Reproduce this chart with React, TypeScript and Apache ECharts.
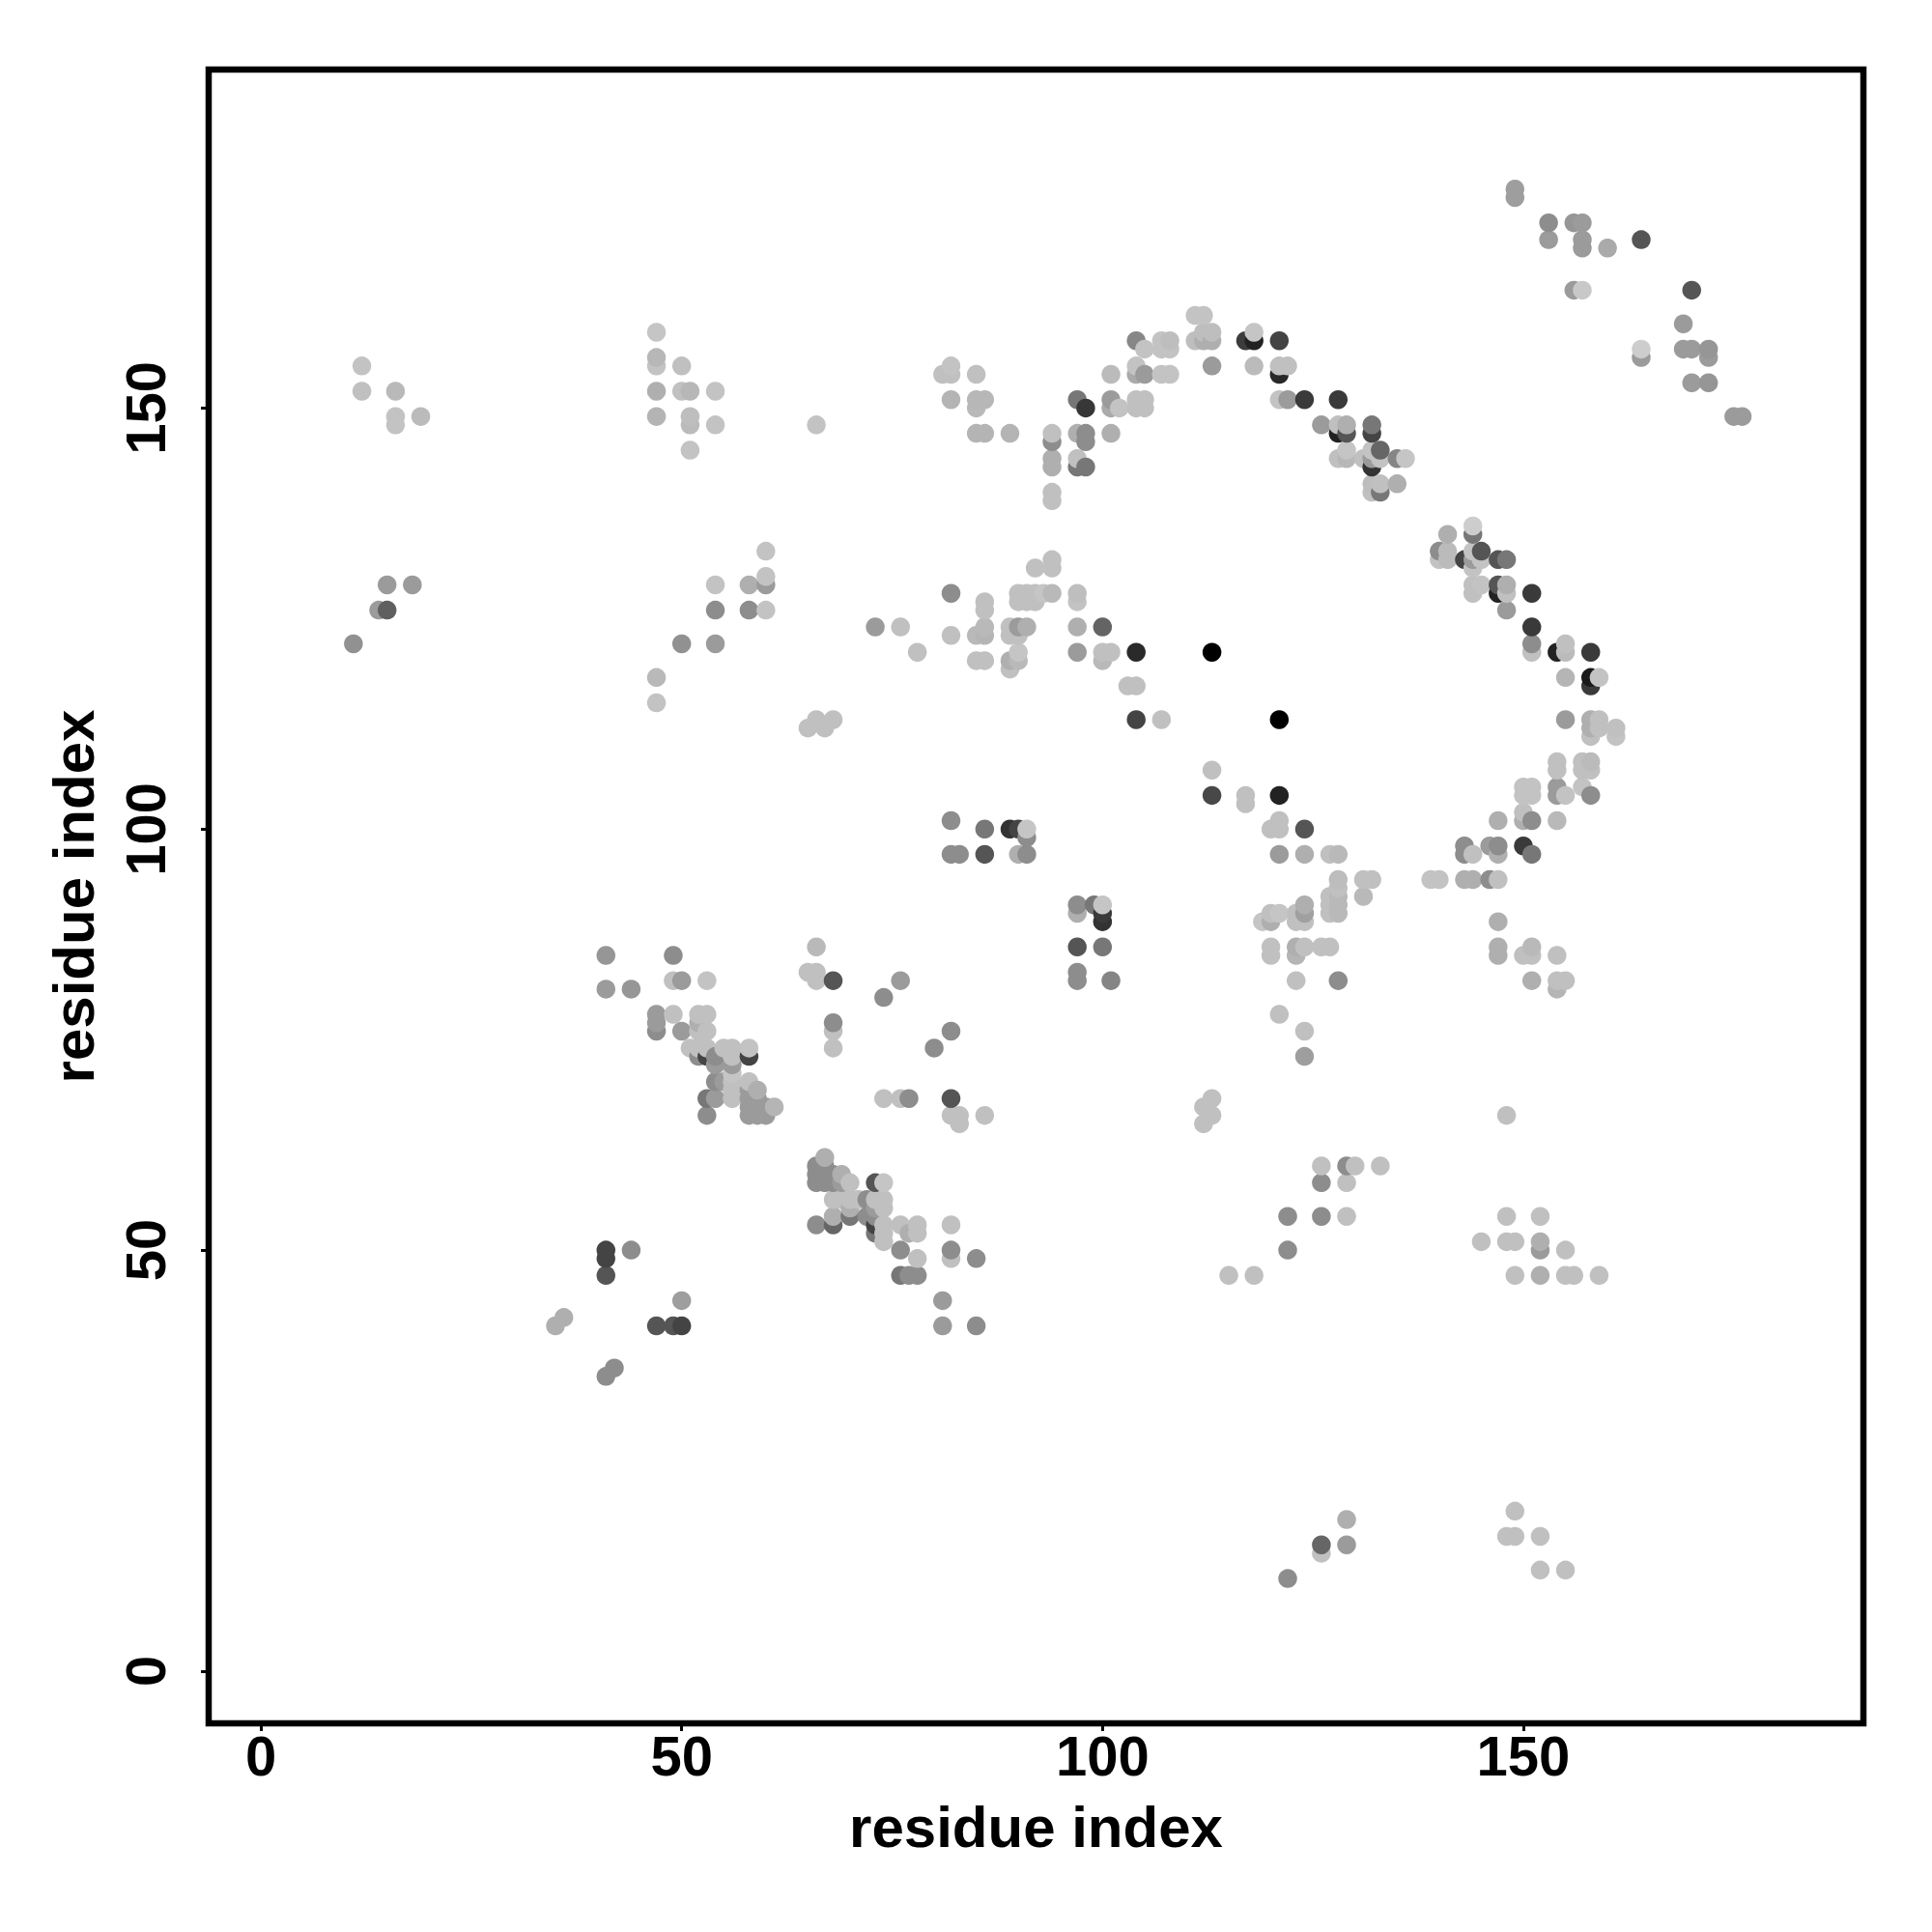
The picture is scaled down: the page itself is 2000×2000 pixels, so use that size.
import React, { useEffect, useRef } from "react";
import * as echarts from "echarts";

// each contact: [residue i, residue j, grey level]
const farLeft = [[12,155,190],[12,152,187],[16,152,180],[16,149,190],[16,148,190],[19,149,182],[15,129,150],[18,129,150],[14,126,150],[15,126,95],[11,122,140]];
const upperMid = [[47,159,192],[47,156,178],[47,155,190],[50,155,187],[47,152,170],[50,152,187],[51,152,178],[54,152,190],[47,149,175],[51,149,185],[51,148,182],[54,148,190],[51,145,190],[66,148,190],
  [60,133,190],[60,130,190],[60,129,150],[54,129,190],[58,129,170],[54,126,136],[58,126,136],[60,126,190],[50,122,140],[54,122,150],[47,118,180],[47,115,190]];
const topArc = [[111,161,190],[112,161,190],[104,158,130],[105,157,190],[107,158,190],[108,158,185],[107,157,190],[108,157,190],[111,158,185],[112,159,185],[113,159,185],[112,158,170],[113,158,170],[113,155,150],
  [117,158,60],[118,158,34],[118,159,192],[121,158,68],[118,155,182],[121,155,187],[122,155,187],[121,154,40],[121,151,190],[122,151,150],
  [81,154,187],[82,155,190],[82,154,187],[85,154,187],[82,151,175],[85,151,178],[86,151,178],[85,150,180],[85,147,175],[86,147,175],[89,147,175],
  [94,147,187],[94,146,136],[94,144,170],[94,143,170],[94,140,187],[94,139,187],[97,151,119],[98,150,55],[97,147,170],[98,147,136],[98,146,136],[97,144,187],[97,143,119],[98,143,119],
  [101,154,182],[101,151,150],[101,150,165],[102,150,190],[101,147,170],[104,155,190],[104,154,165],[105,154,150],[107,154,190],[108,154,190],[104,151,187],[105,151,187],[104,150,187],[105,150,187]];
const midBand = [[94,132,187],[94,131,187],[92,131,187],[82,128,136],[86,127,187],[86,126,187],[90,128,187],[91,128,187],[92,128,187],[93,128,192],[94,128,180],[90,127,187],[91,127,187],[92,127,187],[97,128,185],[97,127,190],
  [73,124,150],[76,124,187],[100,124,100],[97,124,170],[86,124,180],[85,123,180],[86,123,176],[82,123,187],[89,124,187],[90,124,150],[91,124,170],[89,123,187],[90,123,187],
  [78,121,187],[104,121,42],[113,121,0],[97,121,150],[100,121,187],[101,121,187],[100,120,180],[85,120,187],[86,120,187],[89,120,170],[90,121,192],[90,120,180],[89,119,187],
  [103,117,187],[104,117,187],[104,113,68],[107,113,187],[121,113,0],[113,107,187],[113,104,72],[68,113,187],[66,113,187],[65,112,187],[67,112,187]];
const topRight = [[149,176,153],[149,175,153],[153,172,136],[153,170,150],[156,172,145],[157,172,150],[157,170,150],[157,169,150],[160,169,165],[164,170,85],[156,164,150],[157,164,195],[170,164,85],[169,160,150],
  [164,157,200],[164,156,150],[169,157,150],[170,157,150],[172,157,145],[172,156,150],[170,153,150],[172,153,145],[175,149,150],[176,149,150]];
const upperRightArc = [[124,151,58],[128,151,58],[126,148,150],[128,148,187],[129,148,170],[128,147,34],[129,147,85],[132,148,119],[132,147,68],[133,145,102],[128,144,187],[129,145,192],[129,144,178],[131,144,187],[132,145,190],[132,144,150],[133,144,190],[132,143,51],[135,144,128],[136,144,192],
  [132,141,184],[133,141,187],[132,140,187],[133,140,119],[135,141,170]];
const rightArc = [[141,135,170],[144,136,200],[144,135,119],[140,133,136],[141,133,182],[140,132,190],[141,132,182],[143,132,68],[144,133,190],[145,133,85],[144,132,150],[145,132,190],[144,131,190],[147,132,85],[148,132,119],
  [144,129,187],[145,129,190],[144,128,187],[147,129,85],[147,128,34],[148,129,170],[148,128,187],[148,126,150],[151,128,58],[151,124,58],[151,122,136],[151,121,187],
  [154,121,34],[155,122,187],[155,121,182],[158,121,58],[155,118,176],[158,118,26],[159,118,190],[158,117,58],[155,113,150],[158,113,170],[159,113,187],[158,112,170],[159,112,187],[158,111,187],[161,112,187],[161,111,190],
  [154,108,187],[154,107,187],[157,108,187],[158,108,182],[157,107,187],[158,107,187],[157,105,190],[154,105,150],[154,104,150],[155,104,190],[158,104,136],[150,105,190],[151,105,190],[150,104,190],[151,104,190],
  [150,102,187],[150,101,170],[151,101,136],[147,101,170],[154,101,180],[150,98,58],[151,97,119],[143,98,136],[143,97,136],[144,97,187],[146,98,150],[147,98,136],[147,97,170],
  [139,94,190],[140,94,190],[143,94,170],[144,94,170],[146,94,136],[147,94,187]];
const centerRight = [[117,104,187],[117,103,187],[121,104,34],[121,101,187],[120,100,187],[121,100,187],[124,100,85],[121,97,150],[124,97,170],[127,97,187],[128,97,180],
  [128,94,184],[127,92,187],[128,93,187],[128,92,180],[127,91,187],[128,91,180],[127,90,187],[128,90,180],[131,94,187],[132,94,187],[131,92,180],
  [119,89,192],[120,90,187],[120,89,170],[121,90,192],[123,90,187],[123,89,187],[124,91,170],[124,90,155],[124,89,187],
  [120,86,187],[120,85,187],[123,86,170],[123,85,176],[124,86,187],[126,86,187],[127,86,187],[123,82,187],[128,82,136],[121,78,187],[124,76,187],[124,73,153],
  [113,68,187],[112,67,187],[113,66,187],[112,65,187]];
const centerLeft = [[82,101,136],[82,97,136],[83,97,136],[86,100,119],[86,97,85],[89,100,51],[90,100,68],[91,100,192],[91,99,136],[90,97,170],[91,97,136],
  [97,91,136],[97,90,170],[99,91,119],[100,91,192],[100,90,58],[100,89,51],[97,86,85],[100,86,119],[97,83,136],[97,82,136],[101,82,128]];
const lowerRight = [[147,89,170],[147,86,170],[147,85,170],[150,85,187],[151,86,180],[151,85,187],[154,85,187],[151,82,170],[154,82,187],[155,82,187],[154,81,176],[148,66,187],
  [126,60,187],[129,60,136],[130,60,187],[133,60,187],[126,58,136],[129,58,187],[122,54,136],[126,54,136],[129,54,187],[122,50,136],[115,47,187],[118,47,187],
  [145,51,187],[148,54,187],[148,51,187],[149,51,187],[152,54,187],[152,51,170],[152,50,150],[155,50,187],[149,47,187],[152,47,170],[155,47,187],[156,47,187],[159,47,187]];
const bottomRight = [[126,14,187],[126,15,102],[129,18,170],[129,15,150],[122,11,136],[149,19,187],[148,16,187],[149,16,187],[152,16,187],[152,12,187],[155,12,187]];
const lowerLeft = [[35,41,170],[36,42,170],[41,35,136],[42,36,136],[41,50,68],[41,49,68],[41,47,85],[44,50,136],[50,44,153],[47,41,85],[49,41,85],[50,41,68]];
const diagonalA = [[41,85,145],[49,85,136],[41,81,150],[44,81,145],[49,82,187],[50,82,150],[53,82,190],[47,78,150],[47,77,150],[47,76,136],[49,78,187],[50,76,150],
  [52,78,187],[53,78,187],[52,77,170],[53,76,187],[52,76,187],[51,74,187],[52,74,187],[53,74,187],[52,73,136],[53,73,68],[54,73,136],[54,72,150],
  [55,74,187],[56,74,187],[56,73,187],[56,72,150],[58,74,190],[58,73,68],[56,71,192],[56,70,187],[56,69,187],[56,68,187],[54,70,136],[55,70,150],[53,68,119],[54,68,150],[53,66,136],
  [58,70,187],[59,69,170],[58,69,150],[58,68,150],[58,67,150],[58,66,150],[59,68,150],[59,67,150],[59,66,150],[60,66,150],[61,67,176],[60,67,150]];
const diagonalB = [[66,86,180],[65,83,187],[66,83,187],[66,82,187],[68,82,85],[68,77,136],[68,76,187],[68,74,187],[74,80,136],[76,82,150],[74,68,187],[76,68,187],[77,68,136],[80,74,136],[82,76,136],[82,68,85],[82,66,187],[83,66,187],[83,65,187],[86,66,187],
  [67,61,170],[66,60,136],[66,59,136],[66,58,136],[67,60,136],[67,59,136],[67,58,136],[68,59,136],[68,58,136],[69,59,170],[70,58,187],[69,58,150],[73,58,85],[74,58,192],
  [68,56,187],[69,56,187],[70,56,187],[71,56,187],[70,55,170],[70,54,119],[68,54,170],[68,53,102],[66,53,136],[72,56,136],[73,56,187],[74,56,187],[73,55,150],[74,55,187],[72,54,136],[73,54,136],[74,53,187],[73,53,68],[73,52,119],[74,52,187],[74,51,187],
  [76,53,187],[76,50,136],[77,52,170],[78,53,187],[78,52,187],[78,49,187],[76,47,119],[77,47,136],[78,47,136],[82,53,187],[82,50,136],[82,49,187],[85,49,136],[81,44,150],[81,41,150],[85,41,136]];

const tickValues = [0, 50, 100, 150];

const contacts = [...farLeft, ...upperMid, ...topArc, ...midBand, ...topRight, ...upperRightArc, ...rightArc, ...centerRight, ...centerLeft, ...lowerRight, ...bottomRight, ...lowerLeft, ...diagonalA, ...diagonalB]
  .slice()
  .sort((a, b) => a[0] - b[0] || a[1] - b[1]);

const FONT = "Liberation Sans";

function axis(max: number, nameGap: number, rotate: number, labelMargin: number) {
  return {
    type: "value",
    min: -6.2,
    max,
    name: "residue index",
    nameLocation: "middle",
    nameGap,
    nameTextStyle: { fontFamily: FONT, fontWeight: "bold", fontSize: 60, color: "#000" },
    splitLine: { show: false },
    axisLine: { show: false, onZero: false },
    axisTick: { show: true, customValues: tickValues, length: 8, lineStyle: { color: "#000", width: 3 } },
    axisLabel: { show: true, customValues: tickValues, rotate, margin: labelMargin, fontFamily: FONT, fontWeight: "bold", fontSize: 58, color: "#000", showMinLabel: true, showMaxLabel: true },
  };
}

export default function App() {
  const ref = useRef<HTMLDivElement>(null);
  useEffect(() => {
    const chart = echarts.init(ref.current!, null, { renderer: "svg" });
    chart.setOption({
      animation: false,
      backgroundColor: "#fff",
      grid: { left: 216, top: 72, width: 1713, height: 1712, show: true, borderColor: "#000", borderWidth: 6.5, backgroundColor: "transparent" },
      xAxis: axis(190.4, 77, 0, 4),
      yAxis: axis(190.2, 110, 90, 37),
      series: [
        {
          type: "scatter",
          symbol: "circle",
          symbolSize: 19.5,
          clip: false,
          data: contacts.map((c) => {
            const g = c[2] >= 120 ? c[2] + 5 : c[2];
            return { value: [c[0], c[1]], itemStyle: { color: `rgb(${g},${g},${g})`, opacity: 1 } };
          }),
        },
      ],
    });
    return () => chart.dispose();
  }, []);
  return <div ref={ref} style={{ position: "absolute", left: 0, top: 0, width: 2000, height: 2000 }} />;
}
